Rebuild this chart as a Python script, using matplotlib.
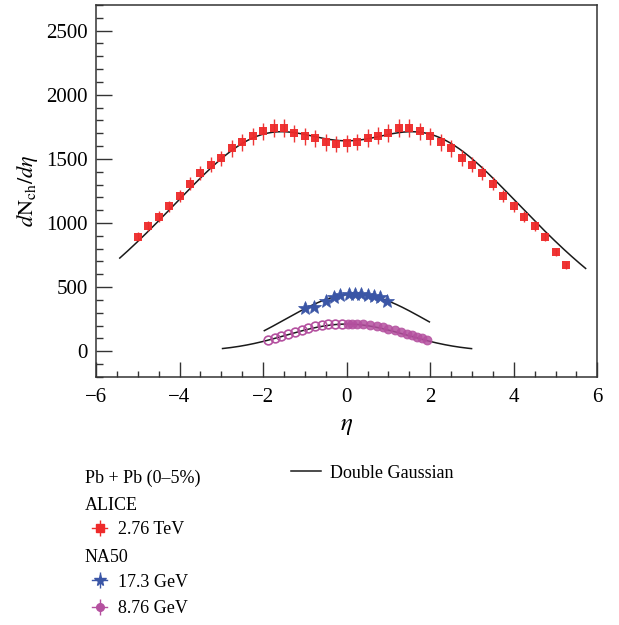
import numpy as np
import matplotlib
matplotlib.use('Agg')
import matplotlib.pyplot as plt
from matplotlib.lines import Line2D
from matplotlib.legend_handler import HandlerTuple

plt.rcParams['font.family'] = ['Liberation Serif', 'DejaVu Serif']
plt.rcParams['mathtext.fontset'] = 'stix'

# ---------------- data ----------------
# ALICE Pb+Pb 2.76 TeV (0-5%)
alice_eta = [-5.0, -4.75, -4.5, -4.25, -4.0, -3.75, -3.5, -3.25, -3.0, -2.75,
             -2.5, -2.25, -2.0, -1.75, -1.5, -1.25, -1.0, -0.75, -0.5, -0.25,
             0.0, 0.25, 0.5, 0.75, 1.0, 1.25, 1.5, 1.75, 2.0, 2.25,
             2.5, 2.75, 3.0, 3.25, 3.5, 3.75, 4.0, 4.25, 4.5, 4.75,
             5.0, 5.25]
alice_val = [893, 977, 1049, 1130, 1211, 1307, 1390, 1453, 1505, 1581,
             1628, 1677, 1714, 1740, 1740, 1698, 1677, 1661, 1630, 1617,
             1620, 1632, 1663, 1680, 1703, 1743, 1743, 1714, 1677, 1630,
             1581, 1508, 1453, 1390, 1307, 1211, 1130, 1049, 977, 893,
             774, 670]
alice_err = [36, 39, 42, 45, 48, 52, 56, 58, 60, 63,
             65, 67, 69, 70, 70, 68, 67, 66, 65, 65,
             65, 65, 67, 67, 68, 70, 70, 69, 67, 65,
             63, 60, 58, 56, 52, 48, 45, 42, 39, 36,
             31, 27]

# NA50 17.3 GeV
na50_173_eta = [-1.0, -0.78, -0.5, -0.3, -0.15, 0.05, 0.2, 0.35, 0.5, 0.65, 0.8, 0.97]
na50_173_val = [335, 345, 392, 422, 435, 448, 450, 447, 440, 434, 422, 395]

# NA50 8.76 GeV (open: negative eta, filled: positive eta)
na50_876_eta_neg = [-1.88, -1.72, -1.56, -1.40, -1.24, -1.08, -0.92, -0.76, -0.60, -0.44, -0.28, -0.12]
na50_876_val_neg = [86, 100, 115, 132, 150, 166, 180, 193, 203, 209, 213, 215]
na50_876_eta_pos = [0.04, 0.12, 0.24, 0.40, 0.56, 0.72, 0.88, 1.00, 1.16, 1.30, 1.44, 1.56, 1.68, 1.80, 1.92]
na50_876_val_pos = [214, 215, 213, 210, 204, 196, 186, 176, 162, 150, 137, 124, 112, 100, 86]

# Double Gaussian curves: points
curve_alice_eta = [-5.43, -4.5, -3.75, -3.0, -2.25, -1.5, -0.75, 0.0, 0.75, 1.5, 2.0, 2.25, 3.0, 3.75, 4.5, 5.25, 5.72]
curve_alice_val = [701, 1015, 1266, 1494, 1664, 1727, 1669, 1635, 1669, 1727, 1685, 1659, 1507, 1266, 1036, 800, 617]
curve_173_eta = [-1.97, -1.0, 0.2, 1.0, 1.98]
curve_173_val = [160, 330, 445, 392, 230]
curve_876_eta = [-2.97, -1.88, -1.13, -0.5, 0.0, 0.5, 1.36, 1.91, 2.99]
curve_876_val = [22, 84, 150, 198, 212, 200, 140, 82, 21]

x_ticks = [-6, -4, -2, 0, 2, 4, 6]
y_ticks = [0, 500, 1000, 1500, 2000, 2500]

RED = '#ee2a2a'
BLUE = '#3b56a6'
MAG = '#b4509f'


def fit_double_gauss(x, y, mus):
    """Least-squares fit of a*G(x;mu,s1) + b*G(x;mu,s2) to the sampled line."""
    x = np.asarray(x, float)
    y = np.asarray(y, float)
    best = None
    for mu in mus:
        for s1 in np.linspace(0.6, 6.0, 55):
            g1 = np.exp(-(x - mu) ** 2 / (2 * s1 * s1))
            for s2 in np.linspace(0.4, 3.0, 27):
                g2 = np.exp(-(x - mu) ** 2 / (2 * s2 * s2))
                M = np.column_stack([g1, g2])
                coef, *_ = np.linalg.lstsq(M, y, rcond=None)
                r = np.sum((M @ coef - y) ** 2)
                if best is None or r < best[0]:
                    best = (r, mu, s1, s2, coef)
    _, mu, s1, s2, coef = best

    def f(t):
        return (coef[0] * np.exp(-(t - mu) ** 2 / (2 * s1 * s1)) +
                coef[1] * np.exp(-(t - mu) ** 2 / (2 * s2 * s2)))
    return f


fig = plt.figure(figsize=(6.19, 6.25), dpi=100)
ax = fig.add_axes([0.155, 0.397, 0.81, 0.595])

# fit lines
for ex, vy, mus in [(curve_alice_eta, curve_alice_val, [0.0]),
                    (curve_173_eta, curve_173_val, np.linspace(-0.4, 0.6, 11)),
                    (curve_876_eta, curve_876_val, np.linspace(-0.3, 0.3, 7))]:
    f = fit_double_gauss(ex, vy, mus)
    t = np.linspace(min(ex), max(ex), 300)
    ax.plot(t, f(t), color='#1a1a1a', lw=1.1, zorder=3)

# ALICE points
ax.errorbar(alice_eta, alice_val, yerr=alice_err, fmt='s', color=RED,
            ms=6, mew=0, elinewidth=1.0, capsize=1.8, capthick=1.0,
            ecolor=RED, alpha=0.95, zorder=4)
# NA50 17.3 GeV
ax.plot(na50_173_eta, na50_173_val, ls='none', marker='*', ms=10,
        color=BLUE, mec=BLUE, mew=0.5, zorder=5)
# NA50 8.76 GeV
ax.plot(na50_876_eta_neg, na50_876_val_neg, ls='none', marker='o', ms=6.3,
        mfc='none', mec=MAG, mew=1.2, zorder=5)
ax.plot(na50_876_eta_pos, na50_876_val_pos, ls='none', marker='o', ms=6.3,
        mfc=MAG, mec=MAG, mew=0.8, alpha=0.85, zorder=5)

ax.set_xlim(-6, 6)
ax.set_ylim(-200, 2700)
ax.set_xticks(x_ticks)
ax.set_xticklabels(['\u22126', '\u22124', '\u22122', '0', '2', '4', '6'])
ax.set_yticks(y_ticks)
ax.set_xticks(np.arange(-6, 6.01, 0.5), minor=True)
ax.set_yticks(np.arange(-200, 2701, 100), minor=True)
ax.tick_params(axis='both', which='both', direction='in', top=False, right=False,
               labelsize=15, width=1.0, color='#333333')
ax.tick_params(axis='y', which='major', length=11.5, pad=6)
ax.tick_params(axis='y', which='minor', length=5)
ax.tick_params(axis='x', which='major', length=11, pad=8)
ax.tick_params(axis='x', which='minor', length=4)
for s in ax.spines.values():
    s.set_linewidth(1.1)
    s.set_color('#333333')

ax.set_xlabel(r'$\eta$', fontsize=18, labelpad=6)
ax.set_ylabel(r'$d\mathrm{N}_{\mathrm{ch}}/d\eta$', fontsize=16, labelpad=4)

# ---------------- legend ----------------
FS = 13
fig.text(85 / 619, 1 - 478 / 625, 'Pb + Pb (0\u20135%)', fontsize=FS, va='center', ha='left')
fig.text(85 / 619, 1 - 505 / 625, 'ALICE', fontsize=FS, va='center', ha='left')
fig.text(85 / 619, 1 - 558 / 625, 'NA50', fontsize=FS, va='center', ha='left')


def cross_handle(color, marker, ms, mfc=None):
    h1 = Line2D([], [], color=color, lw=1.0, marker=marker, ms=ms,
                mfc=mfc if mfc else color, mec=color)
    h2 = Line2D([], [], color=color, ls='none', marker='|', ms=12, mew=1.0)
    return (h1, h2)


leg_kw = dict(frameon=False, loc='center left', borderpad=0, borderaxespad=0,
              handlelength=0.85, handletextpad=0.6, fontsize=FS,
              handler_map={tuple: HandlerTuple(ndivide=1, pad=0)})

l1 = fig.legend([cross_handle(RED, 's', 5.5)], ['2.76 TeV'],
                bbox_to_anchor=(92 / 619, 1 - 530 / 625), **leg_kw)
l2 = fig.legend([cross_handle(BLUE, '*', 8.5), cross_handle(MAG, 'o', 5.5)],
                ['17.3 GeV', '8.76 GeV'], labelspacing=0.55,
                bbox_to_anchor=(92 / 619, 1 - 595.5 / 625), **leg_kw)
l3 = fig.legend([Line2D([], [], color='#1a1a1a', lw=1.1)], ['Double Gaussian'],
                frameon=False, loc='center left', borderpad=0, borderaxespad=0,
                handlelength=1.65, handletextpad=0.5, fontsize=FS,
                bbox_to_anchor=(291 / 619, 1 - 473 / 625))

fig.savefig('out.png', dpi=100)
